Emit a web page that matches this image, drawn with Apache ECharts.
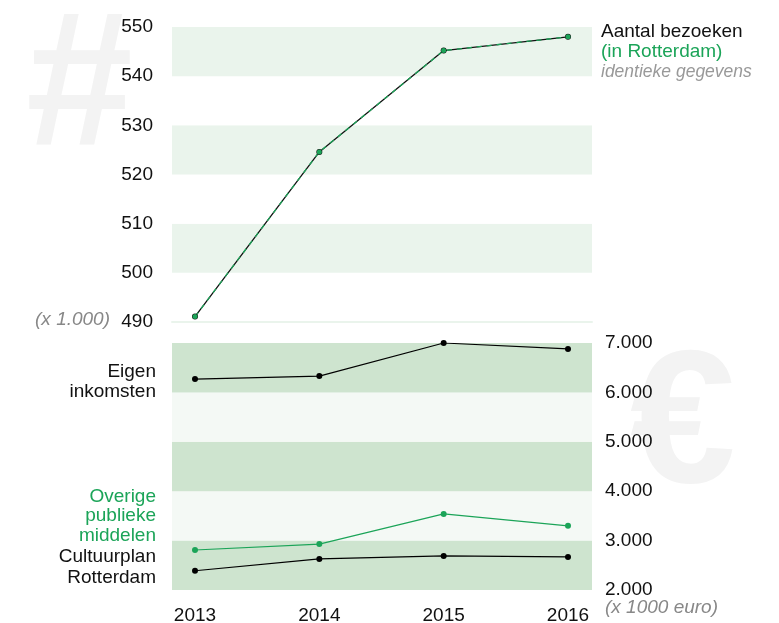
<!doctype html>
<html lang="nl">
<head>
    <meta charset="UTF-8">
    <title>Bezoeken en inkomsten</title>
    <script src="https://cdn.jsdelivr.net/npm/echarts@6/dist/echarts.min.js"></script>
    <style>
        html, body { margin: 0; padding: 0; background: #fff; }
        #chart { width: 779px; height: 623px; }
    </style>
</head>
<body>
<div id="chart"></div>
<script>
    // data
    const years = [2013, 2014, 2015, 2016]
    const bezoeken = [491.1, 524.6, 545.2, 548.0]          // x 1.000
    const bezoekenRotterdam = [491.1, 524.6, 545.2, 548.0] // identiek
    const eigenInkomsten = [6270, 6330, 7000, 6880]      // x 1000 euro
    const overigePubliek = [2810, 2930, 3540, 3300]
    const cultuurplan = [2390, 2630, 2690, 2670]
    const topTicks = [490, 500, 510, 520, 530, 540, 550]
    const bottomTicks = [2000, 3000, 4000, 5000, 6000, 7000]

    const GREEN = '#1ba458'
    const FONT = 'Liberation Sans, Arial, sans-serif'

    const pairs = arr => years.map((y, i) => [y, arr[i]])

    const chart = echarts.init(document.getElementById('chart'), null, {renderer: 'canvas'})

    const xBase = {
        type: 'value',
        min: 2012.815,
        max: 2016.193,
        splitLine: {show: false},
        axisTick: {show: false}
    }

    // right-aligned label block left of the plot
    const sideLabel = (text, y, color, lh) => ({
        type: 'text', x: 156, y: y,
        style: {text: text, font: '19px ' + FONT, fill: color, align: 'right', lineHeight: lh}
    })

    const option = {
        animation: false,
        backgroundColor: '#fff',
        textStyle: {fontFamily: FONT},
        grid: [
            {left: 172, width: 420, top: 27, height: 295, outerBoundsMode: 'none'},
            {left: 172, width: 420, top: 343, height: 247, outerBoundsMode: 'none'}
        ],
        xAxis: [
            Object.assign({}, xBase, {
                gridIndex: 0,
                axisLabel: {show: false},
                axisLine: {show: true, lineStyle: {color: '#eaf4ec', width: 2}}
            }),
            Object.assign({}, xBase, {
                gridIndex: 1,
                axisLine: {show: false},
                axisLabel: {
                    customValues: years,
                    formatter: v => String(v),
                    color: '#111', fontSize: 19, fontFamily: FONT, margin: 16
                }
            })
        ],
        yAxis: [
            {
                type: 'value', gridIndex: 0, position: 'left',
                min: topTicks[0], max: topTicks[topTicks.length - 1], interval: 10,
                axisLine: {show: false}, axisTick: {show: false}, splitLine: {show: false},
                splitArea: {show: true, areaStyle: {color: ['#ffffff', '#eaf4ec']}},
                axisLabel: {color: '#111', fontSize: 19, fontFamily: FONT, margin: 19}
            },
            {
                type: 'value', gridIndex: 1, position: 'right',
                min: bottomTicks[0], max: bottomTicks[bottomTicks.length - 1], interval: 1000,
                axisLine: {show: false}, axisTick: {show: false}, splitLine: {show: false},
                splitArea: {show: true, areaStyle: {color: ['#cee4cf', '#f4f9f5']}},
                axisLabel: {
                    color: '#111', fontSize: 19, fontFamily: FONT, margin: 13,
                    formatter: v => (v / 1000) + '.000'
                }
            }
        ],
        series: [
            {
                name: 'Aantal bezoeken', type: 'line', xAxisIndex: 0, yAxisIndex: 0,
                data: pairs(bezoeken),
                symbol: 'circle', symbolSize: 6,
                itemStyle: {color: '#111'},
                lineStyle: {color: '#111', width: 1.3}
            },
            {
                name: '(in Rotterdam)', type: 'line', xAxisIndex: 0, yAxisIndex: 0,
                data: pairs(bezoekenRotterdam),
                symbol: 'circle', symbolSize: 5,
                itemStyle: {color: GREEN},
                lineStyle: {color: GREEN, width: 1.3, type: [5, 5]}
            },
            {
                name: 'Eigen inkomsten', type: 'line', xAxisIndex: 1, yAxisIndex: 1,
                data: pairs(eigenInkomsten),
                symbol: 'circle', symbolSize: 6,
                itemStyle: {color: '#000'},
                lineStyle: {color: '#000', width: 1.2}
            },
            {
                name: 'Overige publieke middelen', type: 'line', xAxisIndex: 1, yAxisIndex: 1,
                data: pairs(overigePubliek),
                symbol: 'circle', symbolSize: 6,
                itemStyle: {color: GREEN},
                lineStyle: {color: GREEN, width: 1.2}
            },
            {
                name: 'Cultuurplan Rotterdam', type: 'line', xAxisIndex: 1, yAxisIndex: 1,
                data: pairs(cultuurplan),
                symbol: 'circle', symbolSize: 6,
                itemStyle: {color: '#000'},
                lineStyle: {color: '#000', width: 1.2}
            }
        ],
        graphic: [
            // watermarks
            {type: 'text', z: -10, left: 26, top: -4,
                style: {text: '#', font: 'bold 192px ' + FONT, fill: '#f3f3f3'}},
            {type: 'text', z: -10, left: 630, top: 335,
                style: {text: '€', font: 'bold 190px ' + FONT, fill: '#f3f3f3'}},
            // top right labels
            {type: 'text', left: 601, top: 22,
                style: {text: 'Aantal bezoeken', font: '19px ' + FONT, fill: '#111'}},
            {type: 'text', left: 601, top: 42,
                style: {text: '(in Rotterdam)', font: '19px ' + FONT, fill: GREEN}},
            {type: 'text', left: 601, top: 63,
                style: {text: 'identieke gegevens', font: 'italic 17.5px ' + FONT, fill: '#999'}},
            // units
            {type: 'text', right: 669, top: 310,
                style: {text: '(x 1.000)', font: 'italic 19px ' + FONT, fill: '#888'}},
            {type: 'text', left: 605, top: 598,
                style: {text: '(x 1000 euro)', font: 'italic 19px ' + FONT, fill: '#888'}},
            // left series labels
            sideLabel('Eigen\ninkomsten', 362, '#111', 20),
            sideLabel('Overige\npublieke\nmiddelen', 487, GREEN, 19.5),
            sideLabel('Cultuurplan\nRotterdam', 546, '#111', 21)
        ]
    }
    chart.setOption(option)
</script>
</body>
</html>
